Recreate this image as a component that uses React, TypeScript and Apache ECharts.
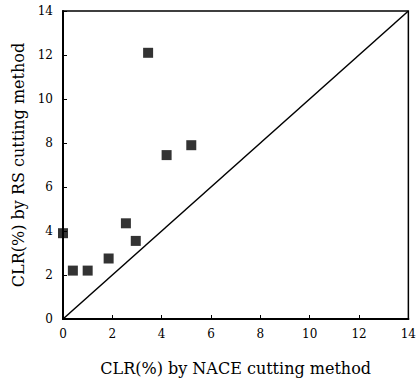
import React, { useEffect, useRef } from "react";
import * as echarts from "echarts";

const naceValues = [0, 0.4, 1.0, 1.85, 2.55, 2.95, 3.45, 4.2, 5.2];
const rsValues = [3.9, 2.2, 2.2, 2.75, 4.35, 3.55, 12.1, 7.45, 7.9];
const diagonal = [[0, 0], [14, 14]];
const xTitle = "CLR(%) by NACE cutting method";
const yTitle = "CLR(%) by RS cutting method";

export default function App() {
  const ref = useRef<HTMLDivElement>(null);
  useEffect(() => {
    if (!ref.current) return;
    const chart = echarts.init(ref.current, null, { renderer: "svg" });
    const font = "'DejaVu Serif', 'Liberation Serif', serif";
    const axisCommon = {
      min: 0,
      max: 14,
      interval: 2,
      splitLine: { show: false },
      axisLine: { show: true, lineStyle: { color: "#000", width: 2 } },
      axisTick: { show: true, inside: true, length: 4, lineStyle: { color: "#000", width: 1 } },
      axisLabel: { color: "#000", fontFamily: font, fontSize: 12 },
      nameLocation: "middle" as const,
      nameTextStyle: { color: "#000", fontFamily: font, fontSize: 16 },
    };
    chart.setOption({
      animation: false,
      backgroundColor: "#fff",
      grid: {
        left: 63,
        top: 11,
        right: 5,
        bottom: 58,
        show: true,
        borderColor: "#000",
        borderWidth: 1.5,
      },
      xAxis: {
        type: "value",
        ...axisCommon,
        name: xTitle,
        nameGap: 41,
        axisLabel: { ...axisCommon.axisLabel, margin: 9 },
      },
      yAxis: {
        type: "value",
        ...axisCommon,
        name: yTitle,
        nameGap: 36,
        axisLabel: { ...axisCommon.axisLabel, margin: 10 },
      },
      series: [
        {
          type: "line",
          data: diagonal,
          symbol: "none",
          lineStyle: { color: "#000", width: 1.5 },
          silent: true,
        },
        {
          type: "scatter",
          data: naceValues.map((x, i) => [x, rsValues[i]]),
          symbol: "rect",
          symbolSize: 10,
          itemStyle: { color: "#000" },
        },
      ],
    });
    return () => chart.dispose();
  }, []);
  return (
    <div
      ref={ref}
      style={{ position: "absolute", left: 0, top: 0, width: 419, height: 381 }}
    />
  );
}
